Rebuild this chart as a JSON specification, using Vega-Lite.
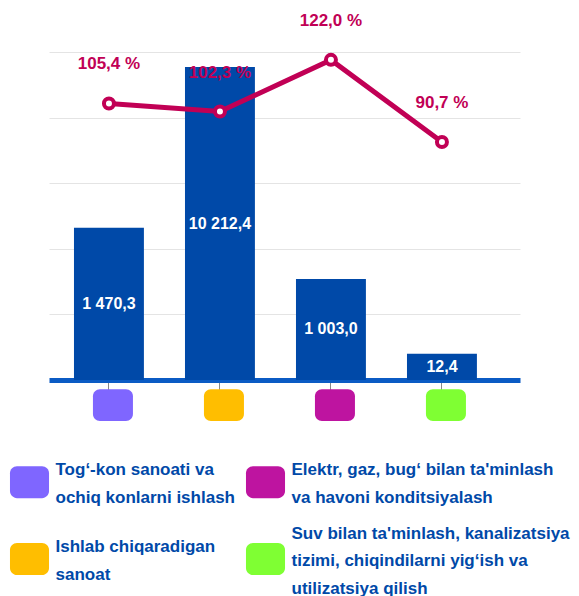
{
  "$schema": "https://vega.github.io/schema/vega-lite/v6.json",
  "autosize": "none",
  "width": 471,
  "height": 328,
  "padding": {"left": 49, "top": 52, "right": 59, "bottom": 216},
  "background": "white",
  "data": {
    "values": [
      {"cat": "Tog‘-kon sanoati va\nochiq konlarni ishlash", "value": 1470.3, "pct": 105.4, "bar": 2.32},
      {"cat": "Ishlab chiqaradigan\nsanoat", "value": 10212.4, "pct": 102.3, "bar": 4.77},
      {"cat": "Elektr, gaz, bug‘ bilan ta'minlash\nva havoni konditsiyalash", "value": 1003.0, "pct": 122.0, "bar": 1.54},
      {"cat": "Suv bilan ta'minlash, kanalizatsiya\ntizimi, chiqindilarni yig‘ish va\nutilizatsiya qilish", "value": 12.4, "pct": 90.7, "bar": 0.40}
    ]
  },
  "encoding": {
    "x": {
      "field": "cat",
      "type": "nominal",
      "sort": null,
      "scale": {"paddingInner": 0.37, "paddingOuter": 0.3066, "align": 0.367},
      "axis": {
        "title": null,
        "labels": false,
        "ticks": true,
        "tickSize": 10,
        "tickColor": "#888888",
        "tickWidth": 1,
        "domain": true,
        "domainColor": "#0b5bc4",
        "domainWidth": 5,
        "grid": false
      }
    }
  },
  "layer": [
    {
      "mark": {"type": "bar", "color": "#0049a8"},
      "encoding": {
        "y": {
          "field": "bar",
          "type": "quantitative",
          "scale": {"domain": [0, 5], "nice": false},
          "axis": {"title": null, "labels": false, "ticks": false, "domain": false, "grid": true, "gridColor": "#e4e4e4", "gridWidth": 1, "values": [1, 2, 3, 4, 5]}
        }
      }
    },
    {
      "mark": {"type": "bar", "width": 40, "cornerRadius": 7, "clip": false, "xOffset": 4},
      "encoding": {
        "y": {"datum": -0.14, "type": "quantitative", "scale": {"domain": [0, 5], "nice": false}, "axis": null},
        "y2": {"datum": -0.625},
        "color": {
          "field": "cat",
          "type": "nominal",
          "scale": {
            "domain": [
              "Tog‘-kon sanoati va\nochiq konlarni ishlash",
              "Ishlab chiqaradigan\nsanoat",
              "Elektr, gaz, bug‘ bilan ta'minlash\nva havoni konditsiyalash",
              "Suv bilan ta'minlash, kanalizatsiya\ntizimi, chiqindilarni yig‘ish va\nutilizatsiya qilish"
            ],
            "range": ["#7f66ff", "#ffbe00", "#be14a0", "#7fff33"]
          },
          "legend": {
            "title": null,
            "orient": "none",
            "legendX": -35.5,
            "legendY": 414,
            "columns": 2,
            "padding": 0,
            "columnPadding": 10,
            "rowPadding": 18,
            "symbolType": "M -0.78,-1 L 0.78,-1 A 0.44 0.44 0 0 1 1.22,-0.56 L 1.22,0.56 A 0.44 0.44 0 0 1 0.78,1 L -0.78,1 A 0.44 0.44 0 0 1 -1.22,0.56 L -1.22,-0.56 A 0.44 0.44 0 0 1 -0.78,-1 Z",
            "symbolSize": 1024,
            "symbolStrokeWidth": 0,
            "symbolOpacity": 1,
            "labelOffset": 10,
            "labelFont": "Liberation Sans, Arial, sans-serif",
            "labelFontSize": 17,
            "labelFontWeight": "bold",
            "labelColor": "#0049a8",
            "labelLimit": 400,
            "labelExpr": "split(datum.label, '\\n')",
            "encode": {"labels": {"update": {"lineHeight": {"value": 27.5}, "dy": {"signal": "-(length(split(datum.label, '\\n')) - 1) * 13.75 + 2"}}}}
          }
        }
      }
    },
    {
      "mark": {"type": "text", "color": "white", "fontWeight": "bold", "fontSize": 16, "font": "Liberation Sans, Arial, sans-serif", "baseline": "middle"},
      "encoding": {
        "y": {"field": "bar", "type": "quantitative", "scale": {"domain": [0, 10], "nice": false}, "axis": null},
        "text": {"field": "value", "type": "quantitative", "format": ",.1f"}
      }
    },
    {
      "mark": {"type": "line", "color": "#c10055", "strokeWidth": 5},
      "encoding": {
        "y": {"field": "pct", "type": "quantitative", "scale": {"domain": [0, 125], "nice": false, "zero": true}, "axis": null}
      }
    },
    {
      "mark": {"type": "point", "filled": true, "fill": "white", "stroke": "#c10055", "strokeWidth": 4, "size": 100, "opacity": 1},
      "encoding": {
        "y": {"field": "pct", "type": "quantitative", "scale": {"domain": [0, 125], "nice": false, "zero": true}, "axis": null}
      }
    },
    {
      "mark": {"type": "text", "color": "#c10055", "fontWeight": "bold", "fontSize": 17, "font": "Liberation Sans, Arial, sans-serif", "baseline": "middle", "dy": -39},
      "encoding": {
        "y": {"field": "pct", "type": "quantitative", "scale": {"domain": [0, 125], "nice": false, "zero": true}, "axis": null},
        "text": {"field": "pct", "type": "quantitative", "format": "$.1f"}
      }
    }
  ],
  "resolve": {"scale": {"y": "independent"}},
  "config": {
    "view": {"stroke": null},
    "locale": {"number": {"decimal": ",", "thousands": " ", "grouping": [3], "currency": ["", " %"]}}
  }
}
